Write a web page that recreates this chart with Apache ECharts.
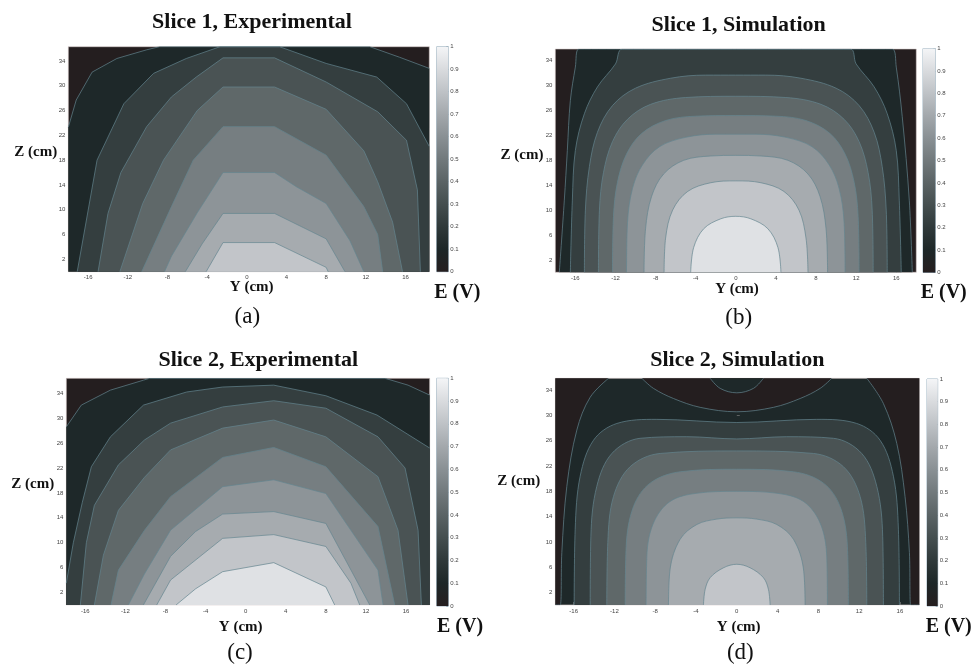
<!DOCTYPE html>
<html>
<head>
<meta charset="utf-8">
<script src="https://cdn.jsdelivr.net/npm/echarts@6/dist/echarts.min.js"></script>
<style>
  html, body { margin: 0; padding: 0; background: #fff; }
  #chart { width: 975px; height: 665px; }
</style>
</head>
<body>
<div id="chart"></div>
<script>
// tick labels
const yTicks = [-16, -12, -8, -4, 0, 4, 8, 12, 16];
const zTicks = [2, 6, 10, 14, 18, 22, 26, 30, 34];
const cbTicks = [0, 0.1, 0.2, 0.3, 0.4, 0.5, 0.6, 0.7, 0.8, 0.9, 1];

// contour lines, [Y cm, Z cm]; index i = level 0.1*(i+1)
const s1Exp = [
  [[-18, 23.3], [-17.2, 27.7], [-15.6, 32.2], [-13.1, 34.4], [-10.1, 35.8], [-8.8, 36.3], [12.4, 36.3], [15.4, 34.6], [18.4, 32.8]],
  [[-17.1, 0], [-15.1, 18], [-12.4, 27.1], [-9.4, 32], [-6.1, 34.4], [-2.7, 36.3], [3.3, 36.3], [8, 33.6], [13.1, 31.4], [16.1, 27.1], [18.4, 20.2]],
  [[-15, 0], [-14, 9.4], [-12.7, 16], [-10.1, 23.4], [-7.6, 28.2], [-5.1, 31.4], [-2.4, 34.5], [2.8, 34.5], [8, 30.6], [13.2, 25.8], [16.1, 21.2], [17.2, 13.2], [17.5, 0]],
  [[-12.8, 0], [-10.5, 11], [-8.4, 18], [-5, 26], [-2.4, 29.8], [2.8, 29.8], [8, 26.2], [11.8, 19.5], [13.2, 14.5], [14.7, 8], [15.7, 0]],
  [[-10.6, 0], [-7.6, 10.5], [-5.4, 18], [-2.4, 23.4], [2.8, 23.4], [8, 18.8], [11.8, 10.5], [13.2, 6], [13.7, 0]],
  [[-8.3, 0], [-7.6, 2.5], [-5, 9.5], [-2.4, 16], [2.8, 16], [5, 13.7], [8, 11], [10.4, 5], [11.8, 0]],
  [[-6.2, 0], [-4.5, 4.5], [-2.4, 9.4], [2.8, 9.4], [8, 5.3], [9.9, 0]],
  [[-4.1, 0], [-2.4, 4.7], [2.8, 4.7], [8, 0.7], [8.2, 0]]
];

const s1Sim = [
  [[-17.6, 0], [-17.1, 11.6], [-16.8, 19.6], [-16.5, 27.6], [-16, 33], [-15.65, 35.9], [15.6, 35.9], [16, 33], [16.6, 25], [17.3, 11.6], [17.6, 0]],
  [[-16.5, 0], [-16.3, 11.6], [-16, 19.6], [-15.1, 25.5], [-13.8, 29.8], [-12, 33.5], [-11.3, 35.9], [11.4, 35.9], [12, 33.5], [13.8, 29.8], [15.1, 25.5], [16, 19.6], [16.3, 11.6], [16.5, 0]],
  [[-15.1, 0], [-15, 10], [-14.6, 17], [-13.8, 22.5], [-12.3, 26.8], [-10, 29.6], [-6.5, 31.2], [-3, 31.7], [0, 31.7], [3, 31.7], [6.5, 31.2], [10, 29.6], [12.3, 26.8], [13.8, 22.5], [14.6, 17], [15, 10], [15.1, 0]],
  [[-13.7, 0], [-13.6, 10], [-13.2, 16], [-12.3, 21], [-10.8, 24.6], [-8.5, 27], [-5, 28.1], [0, 28.3], [5, 28.1], [8.5, 27], [10.8, 24.6], [12.3, 21], [13.2, 16], [13.6, 10], [13.7, 0]],
  [[-12.3, 0], [-12.2, 9], [-11.8, 14.5], [-10.9, 19], [-9.4, 22.3], [-7, 24.4], [-4, 25.1], [0, 25.2], [4, 25.1], [7, 24.4], [9.4, 22.3], [10.9, 19], [11.8, 14.5], [12.2, 9], [12.3, 0]],
  [[-10.9, 0], [-10.8, 8], [-10.3, 13.5], [-9.3, 17.3], [-7.6, 20.2], [-5, 21.7], [-2, 22.2], [2, 22.2], [5, 21.7], [7.6, 20.2], [9.3, 17.3], [10.3, 13.5], [10.8, 8], [10.9, 0]],
  [[-9.15, 0], [-9, 7], [-8.4, 12.2], [-7.2, 15.8], [-5.2, 18], [-2.5, 18.7], [0, 18.8], [2.5, 18.7], [5.2, 18], [7.2, 15.8], [8.4, 12.2], [9, 7], [9.15, 0]],
  [[-7.15, 0], [-7, 5.5], [-6.3, 10], [-4.8, 13], [-2.5, 14.4], [0, 14.7], [2.5, 14.4], [4.8, 13], [6.3, 10], [7, 5.5], [7.2, 0]],
  [[-4.5, 0], [-4.2, 4], [-3.2, 7], [-1.5, 8.6], [0, 9], [1.5, 8.6], [3.2, 7], [4.2, 4], [4.5, 0]]
];

const s2Exp = [
  [[-17.9, 28.6], [-16.4, 32.1], [-13.5, 34.5], [-10.2, 36.1], [-9.6, 36.4], [13.9, 36.4], [16.2, 35.3], [18.36, 33.7]],
  [[-17.9, 3.5], [-17.2, 10], [-16.3, 16.5], [-15.4, 22.2], [-13.5, 27], [-10.2, 32.1], [-5.9, 34.2], [-2.3, 35], [2.8, 35.3], [8, 33.6], [13.1, 30.5], [18.36, 25.2]],
  [[-16.5, 0], [-15.9, 10], [-15.1, 16], [-12.7, 22.5], [-10.1, 26.5], [-7.5, 29.2], [-2.3, 31.8], [2.8, 32.8], [8, 31.6], [13.2, 27], [15.9, 22], [17.2, 12], [17.53, 0]],
  [[-15.1, 0], [-14.2, 8], [-12.7, 15.2], [-10.1, 20.5], [-7.5, 24.9], [-2.3, 28.4], [2.8, 29.7], [8, 27], [13.2, 20.6], [15.2, 12], [16.2, 0]],
  [[-13.44, 0], [-12.7, 5.6], [-10.1, 12], [-7.5, 17.4], [-2.3, 23.7], [2.8, 25.3], [8, 22.2], [13.2, 12.6], [14.87, 0]],
  [[-11.71, 0], [-10.1, 5], [-7.5, 12], [-2.3, 19], [2.8, 20.1], [8, 17.9], [13.2, 5.6], [13.71, 0]],
  [[-10.21, 0], [-7.5, 7.8], [-5, 11.8], [-2.3, 14.6], [2.8, 15], [8, 13.1], [12.38, 0]],
  [[-8.88, 0], [-7.5, 4], [-2.3, 10.7], [2.8, 11.3], [8, 9.4], [10.5, 3.5], [11.38, 0]],
  [[-6.95, 0], [-5, 2.6], [-2.3, 5.35], [2.8, 6.8], [8, 2.9], [8.88, 0]]
];

// slice 2 simulation: E<0.1 pockets (filled towards the top), the 0.1 bump inside the
// top pocket, then levels 0.2 .. 0.8
const s2SimDark = [
  [[-17.8, 0], [-17.32, 0], [-17.16, 8.3], [-16.67, 18.8], [-15.69, 27.7], [-14.38, 32.9], [-12.58, 35.9]],
  [[-9.31, 35.9], [-8.17, 34.3], [-6.21, 32.7], [-3.59, 31.3], [0, 30.6], [3.59, 31.3], [6.21, 32.7], [8.17, 34.3], [9.31, 35.9]],
  [[12.75, 35.9], [14.38, 31.9], [15.69, 25.6], [16.5, 17.2], [16.93, 8.3], [17.06, 0], [17.9, 0]]
];
const s2SimBump = [[-2.61, 35.9], [-1.63, 34.3], [0, 33.6], [1.63, 34.3], [2.61, 35.9]];
const s2Sim = [
  [[-15.95, 0], [-15.85, 12], [-15.36, 20.4], [-14.05, 26.1], [-11.76, 28.75], [-7.84, 29.4], [0, 28.9], [7.84, 29.4], [11.76, 28.75], [14.05, 26.1], [15.36, 20.4], [15.85, 12], [15.95, 0]],
  [[-14.38, 0], [-14.31, 10.9], [-13.73, 18.8], [-12.25, 24], [-9.48, 26.4], [-4.9, 26.65], [0, 26.3], [4.9, 26.65], [9.48, 26.4], [12.25, 24], [13.73, 18.8], [14.31, 10.9], [14.38, 0]],
  [[-12.75, 0], [-12.65, 9.9], [-12.09, 17.2], [-10.46, 21.9], [-7.52, 24], [0, 24.4], [7.52, 24], [10.46, 21.9], [12.09, 17.2], [12.65, 9.9], [12.75, 0]],
  [[-10.95, 0], [-10.85, 9.3], [-10.13, 15.6], [-8.5, 19.3], [-5.56, 21.1], [0, 21.5], [5.56, 21.1], [8.5, 19.3], [10.13, 15.6], [10.85, 9.3], [10.95, 0]],
  [[-8.89, 0], [-8.82, 7.8], [-8.17, 13], [-6.54, 16.4], [-3.92, 17.7], [0, 18], [3.92, 17.7], [6.54, 16.4], [8.17, 13], [8.82, 7.8], [8.89, 0]],
  [[-6.7, 0], [-6.54, 5.7], [-5.56, 10.4], [-3.92, 12.75], [-1.96, 13.6], [0, 13.8], [1.96, 13.6], [3.92, 12.75], [5.56, 10.4], [6.54, 5.7], [6.7, 0]],
  [[-3.27, 0], [-3.1, 2.5], [-2.6, 4.35], [-1.3, 5.9], [0, 6.45], [1.3, 5.9], [2.6, 4.35], [3.1, 2.5], [3.27, 0]]
];

// band colours, 0-0.1 ... 0.9-1 (grey map with a slight teal tint)
const bands = ["#241e1f", "#1e2829", "#343e3f", "#4a5354", "#5f6869", "#767e81", "#8d9498", "#a6abaf", "#c2c5c9", "#dfe1e4"];
const barStops = ["#251e1f", "#1d2728", "#2f393a", "#444e4f", "#5a6365", "#71797c", "#899094", "#a3a8ac", "#bec2c6", "#d9dbde", "#f4f5f7"];
const LINE = "#64858f";
const SERIF = "'Liberation Serif', 'DejaVu Serif', serif";

// panel layout (pixels), axis extents
const panels = [
  { plot: [68.3, 46.7, 429.3, 271.7], cb: [436.7, 46.7, 448.3, 271.7], yMin: -18, yMax: 18.4, zMax: 36.3,
    title: "Slice 1, Experimental", t: [252, 22], zl: [35.7, 152.3], yl: [251.7, 287.3], el: [457.3, 293.3], tag: "(a)", g: [247.3, 316.7] },
  { plot: [555.3, 49, 916.3, 272.3], cb: [923, 48.5, 935.3, 272.5], yMin: -18, yMax: 18, zMax: 35.9,
    title: "Slice 1, Simulation", t: [738.7, 25], zl: [522, 155], yl: [737, 289.3], el: [943.7, 293.3], tag: "(b)", g: [738.7, 318.3] },
  { plot: [66.3, 378.3, 429.7, 605], cb: [436.7, 378.3, 448.3, 606], yMin: -17.9, yMax: 18.36, zMax: 36.4,
    title: "Slice 2, Experimental", t: [258.3, 360.7], zl: [32.7, 484.3], yl: [240.7, 626.7], el: [460, 626.7], tag: "(c)", g: [240, 652.7] },
  { plot: [555.3, 378.3, 919.3, 605], cb: [927, 379, 937.7, 606], yMin: -17.8, yMax: 17.9, zMax: 35.9,
    title: "Slice 2, Simulation", t: [737.3, 360.7], zl: [518.7, 481], yl: [738.7, 626.7], el: [948.7, 626.7], tag: "(d)", g: [740.3, 652.7] }
];

const grids = [], xAxes = [], yAxes = [], series = [], graphics = [];

function text(str, pos, font) {
  graphics.push({
    type: "text", x: pos[0], y: pos[1], silent: true,
    style: { text: str, font: font, fill: "#111", textAlign: "center", textVerticalAlign: "middle", align: "center", verticalAlign: "middle" }
  });
}

function contour(gi, pts, color, origin, smooth) {
  series.push({
    type: "line", xAxisIndex: gi, yAxisIndex: gi, data: pts,
    symbol: "none", smooth: smooth ? 0.35 : false, silent: true, clip: true,
    lineStyle: { color: LINE, width: 0.7 },
    areaStyle: { color: color, opacity: 1, origin: origin }
  });
}

panels.forEach((p, i) => {
  const gi = i * 2, ci = i * 2 + 1;
  grids.push({
    left: p.plot[0], top: p.plot[1], width: p.plot[2] - p.plot[0], height: p.plot[3] - p.plot[1],
    show: true, backgroundColor: i === 3 ? bands[1] : bands[0], borderColor: "#d8cccc", borderWidth: 0.6
  });
  grids.push({
    left: p.cb[0], top: p.cb[1], width: p.cb[2] - p.cb[0], height: p.cb[3] - p.cb[1],
    show: true, borderColor: "#9fb4c2", borderWidth: 1
  });
  xAxes.push({
    type: "value", gridIndex: gi, min: p.yMin, max: p.yMax,
    axisLine: { show: false }, splitLine: { show: false },
    axisTick: { show: true, inside: true, length: 3, customValues: yTicks, lineStyle: { color: "#888", width: 0.6 } },
    axisLabel: { customValues: yTicks, fontSize: 6, color: "#444", margin: 3, fontFamily: "Liberation Sans" }
  });
  yAxes.push({
    type: "value", gridIndex: gi, min: 0, max: p.zMax,
    axisLine: { show: false }, splitLine: { show: false },
    axisTick: { show: true, inside: true, length: 3, customValues: zTicks, lineStyle: { color: "#888", width: 0.6 } },
    axisLabel: { customValues: zTicks, fontSize: 6, color: "#444", margin: 3, fontFamily: "Liberation Sans" }
  });
  xAxes.push({ type: "category", gridIndex: ci, data: ["E"], show: false });
  yAxes.push({
    type: "value", gridIndex: ci, min: 0, max: 1, interval: 0.1, position: "right",
    axisLine: { show: false }, splitLine: { show: false },
    axisTick: { show: true, inside: true, length: 2, lineStyle: { color: "#6f8a9a", width: 0.6 } },
    axisLabel: {
      fontSize: 6, color: "#444", margin: 2, fontFamily: "Liberation Sans",
      formatter: (v) => (v === 0 || v === 1 ? String(v) : v.toFixed(1))
    }
  });
  series.push({
    type: "bar", xAxisIndex: ci, yAxisIndex: ci, data: [1], barWidth: "100%", silent: true,
    itemStyle: {
      color: new echarts.graphic.LinearGradient(0, 1, 0, 0,
        barStops.map((c, k) => ({ offset: cbTicks[k], color: c })))
    }
  });

  text(p.title, p.t, "bold 22px " + SERIF);
  text("Z (cm)", p.zl, "bold 15px " + SERIF);
  text("Y (cm)", p.yl, "bold 15px " + SERIF);
  text("E (V)", p.el, "bold 20px " + SERIF);
  text(p.tag, p.g, "23px " + SERIF);
});

// filled contours, outer level first
s1Exp.forEach((pts, k) => contour(0, pts, bands[k + 1], "start", false));
s1Sim.forEach((pts, k) => contour(2, pts, bands[k + 1], "start", true));
s2Exp.forEach((pts, k) => contour(4, pts, bands[k + 1], "start", false));
s2SimDark.forEach((pts) => contour(6, pts, bands[0], "end", true));
contour(6, s2SimBump, bands[1], "end", true);
s2Sim.forEach((pts, k) => contour(6, pts, bands[k + 2], "start", true));

const chart = echarts.init(document.getElementById("chart"), null, { renderer: "canvas" });
chart.setOption({
  animation: false,
  backgroundColor: "#fff",
  grid: grids,
  xAxis: xAxes,
  yAxis: yAxes,
  series: series,
  graphic: graphics
});
</script>
</body>
</html>
